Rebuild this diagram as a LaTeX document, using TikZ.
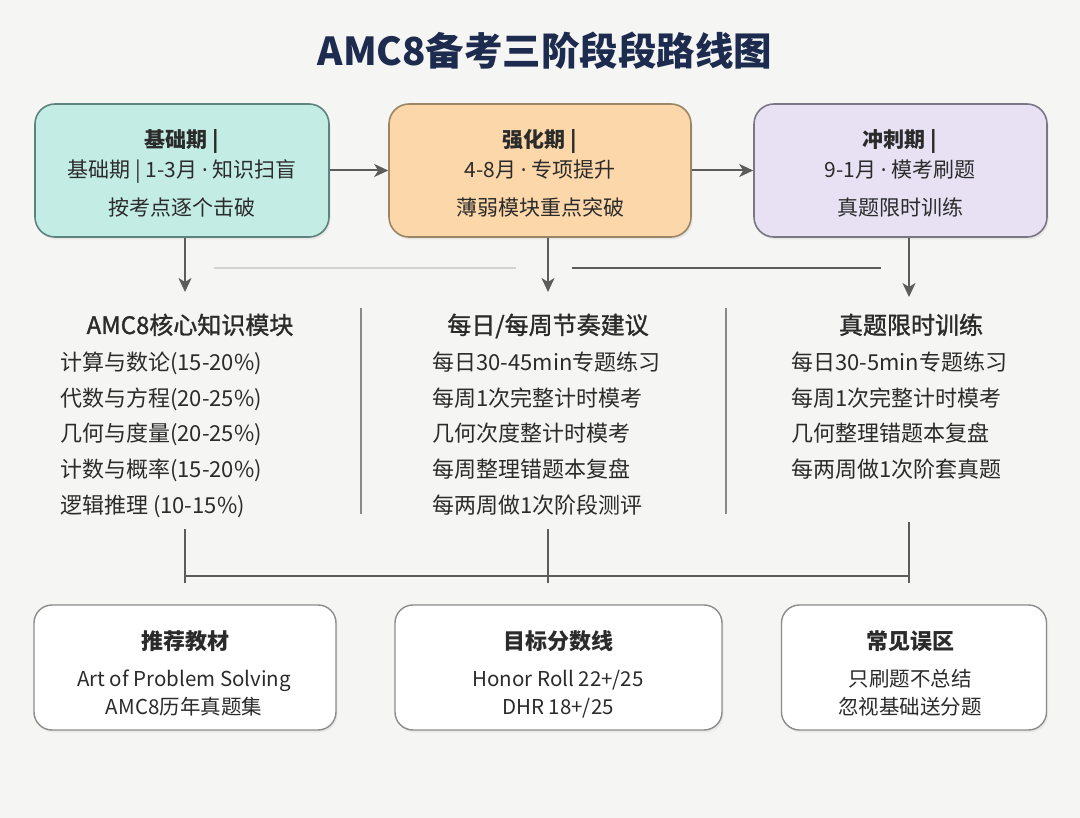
\documentclass[tikz,border=0pt]{standalone}
\usepackage{fontspec}
\setmainfont{Noto Sans CJK SC}
\newfontfamily\medf[FakeBold=1.3]{Noto Sans CJK SC}
\newfontfamily\latf{Noto Sans}
\newcommand{\mydot}{{\latf ·}}
\usetikzlibrary{arrows.meta,shadows}
\definecolor{bg}{HTML}{F5F5F4}
\definecolor{txt}{HTML}{2B2B2B}
\definecolor{ttl}{HTML}{1C2B4E}
\definecolor{linec}{HTML}{5C5C5C}
\definecolor{lightl}{HTML}{D2D2D2}
\definecolor{sepc}{HTML}{8A8A8A}
\definecolor{tealf}{HTML}{C3ECE4}
\definecolor{teald}{HTML}{5E837D}
\definecolor{orf}{HTML}{FBD7A9}
\definecolor{ord}{HTML}{9C8466}
\definecolor{lavf}{HTML}{E7E1F3}
\definecolor{lavd}{HTML}{7A7684}
\definecolor{boxd}{HTML}{8C8C8C}
\begin{document}
\begin{tikzpicture}[x=1pt,y=-1pt,
  topbox/.style={draw, line width=1.6pt, rounded corners=20pt, minimum height=133pt, inner sep=0pt,
    drop shadow={opacity=0.12, shadow xshift=1.5pt, shadow yshift=-2.5pt}},
  botbox/.style={draw=boxd, fill=white, line width=1.4pt, rounded corners=18pt, minimum height=125pt, inner sep=0pt,
    drop shadow={opacity=0.10, shadow xshift=1.5pt, shadow yshift=-2.5pt}},
  tl/.style={anchor=base, inner sep=0pt, text=txt, font=\fontsize{21}{25}\selectfont},
  tlb/.style={tl, font=\fontsize{21}{25}\selectfont\bfseries},
  head/.style={anchor=base, inner sep=0pt, text=txt, font=\fontsize{24}{28}\selectfont\medf},
  item/.style={anchor=base west, inner sep=0pt, text=txt, font=\fontsize{22}{26}\selectfont},
  bt/.style={anchor=base, inner sep=0pt, text=txt, font=\fontsize{22}{26}\selectfont\bfseries},
  bl/.style={anchor=base, inner sep=0pt, text=txt, font=\fontsize{20.5}{24}\selectfont},
  arr/.style={draw=linec, line width=2pt, -{Stealth[length=14pt,width=13pt,inset=4pt]}},
  conn/.style={draw=linec, line width=2pt},
  sep/.style={draw=sepc, line width=1.5pt}
]
\fill[bg] (0,0) rectangle (1080,818);
\useasboundingbox (0,0) rectangle (1080,818);

% title
\node[anchor=base, inner sep=0pt, text=ttl, font=\fontsize{38.5}{46}\selectfont\bfseries] (title) at (545,66) {AMC8备考三阶段段路线图};

% top boxes
\node[topbox, fill=tealf, draw=teald, minimum width=294pt] (b1) at (182,170.5) {};
\node[topbox, fill=orf, draw=ord, minimum width=302pt] (b2) at (540,170.5) {};
\node[topbox, fill=lavf, draw=lavd, minimum width=293pt] (b3) at (900.5,170.5) {};

\node[tlb] (b1a) at (182,148) {基础期 |};
\node[tl] (b1b) at (182,178) {基础期 | 1-3月 \mydot{} 知识扫盲};
\node[tl] (b1c) at (182,216) {按考点逐个击破};
\node[tlb] (b2a) at (540,148) {强化期 |};
\node[tl] (b2b) at (540,178) {4-8月 \mydot{} 专项提升};
\node[tl] (b2c) at (540,216) {薄弱模块重点突破};
\node[tlb] (b3a) at (900,148) {冲刺期 |};
\node[tl] (b3b) at (900,178) {9-1月 \mydot{} 模考刷题};
\node[tl] (b3c) at (900,216) {真题限时训练};

\draw[arr] (b1.east) -- (b2.west);
\draw[arr] (b2.east) -- (b3.west);

% down arrows
\coordinate (d1) at (185,292);
\coordinate (d2) at (548,292);
\coordinate (d3) at (909,297);
\draw[arr] (b1.south -| d1) -- (d1);
\draw[arr] (b2.south -| d2) -- (d2);
\draw[arr] (b3.south -| d3) -- (d3);

% horizontal rules
\coordinate (r1a) at (214,268); \coordinate (r1b) at (516,268);
\coordinate (r2a) at (572,268); \coordinate (r2b) at (881,268);
\draw[draw=lightl, line width=2pt] (r1a) -- (r1b);
\draw[draw=linec, line width=2pt] (r2a) -- (r2b);

% separators
\coordinate (s1a) at (361,308); \coordinate (s1b) at (361,514);
\coordinate (s2a) at (726,308); \coordinate (s2b) at (726,514);
\draw[sep] (s1a) -- (s1b);
\draw[sep] (s2a) -- (s2b);

% headings
\node[head] (h1) at (190,334) {AMC8核心知识模块};
\node[head] (h2) at (548,334) {每日/每周节奏建议};
\node[head] (h3) at (911,334) {真题限时训练};

% column items
\foreach \t [count=\i] in {计算与数论(15-20\%), 代数与方程(20-25\%), 几何与度量(20-25\%), 计数与概率(15-20\%), 逻辑推理 (10-15\%)}
  \node[item] (c1l\i) at (60,{335.5+35.5*\i}) {\t};
\foreach \t [count=\i] in {每日30-45min专题练习, 每周1次完整计时模考, 几何次度整计时模考, 每周整理错题本复盘, 每两周做1次阶段测评}
  \node[item] (c2l\i) at (432,{335.5+35.5*\i}) {\t};
\foreach \t [count=\i] in {每日30-5min专题练习, 每周1次完整计时模考, 几何整理错题本复盘, 每两周做1次阶套真题}
  \node[item] (c3l\i) at (791,{335.5+35.5*\i}) {\t};

% bottom connectors
\coordinate (v1a) at (185,529); \coordinate (v1b) at (185,583);
\coordinate (v2a) at (548,529); \coordinate (v2b) at (548,583);
\coordinate (v3a) at (909,522); \coordinate (v3b) at (909,583);
\draw[conn] (v1a) -- (v1b);
\draw[conn] (v2a) -- (v2b);
\draw[conn] (v3a) -- (v3b);
\draw[conn] (v1a |- 0,576) -- (v3a |- 0,576);

% bottom boxes
\node[botbox, minimum width=302pt] (k1) at (185,667.5) {};
\node[botbox, minimum width=327pt] (k2) at (558.5,667.5) {};
\node[botbox, minimum width=265pt] (k3) at (914,667.5) {};

\node[bt] (k1a) at (185,649) {推荐教材};
\node[bl] (k1b) at (184,686) {Art of Problem Solving};
\node[bl] (k1c) at (184,714) {AMC8历年真题集};
\node[bt] (k2a) at (558,649) {目标分数线};
\node[bl] (k2b) at (558,686) {Honor Roll 22+/25};
\node[bl] (k2c) at (558,714) {DHR 18+/25};
\node[bt] (k3a) at (910,649) {常见误区};
\node[bl] (k3b) at (910,686) {只刷题不总结};
\node[bl] (k3c) at (910,714) {忽视基础送分题};
\end{tikzpicture}
\end{document}
